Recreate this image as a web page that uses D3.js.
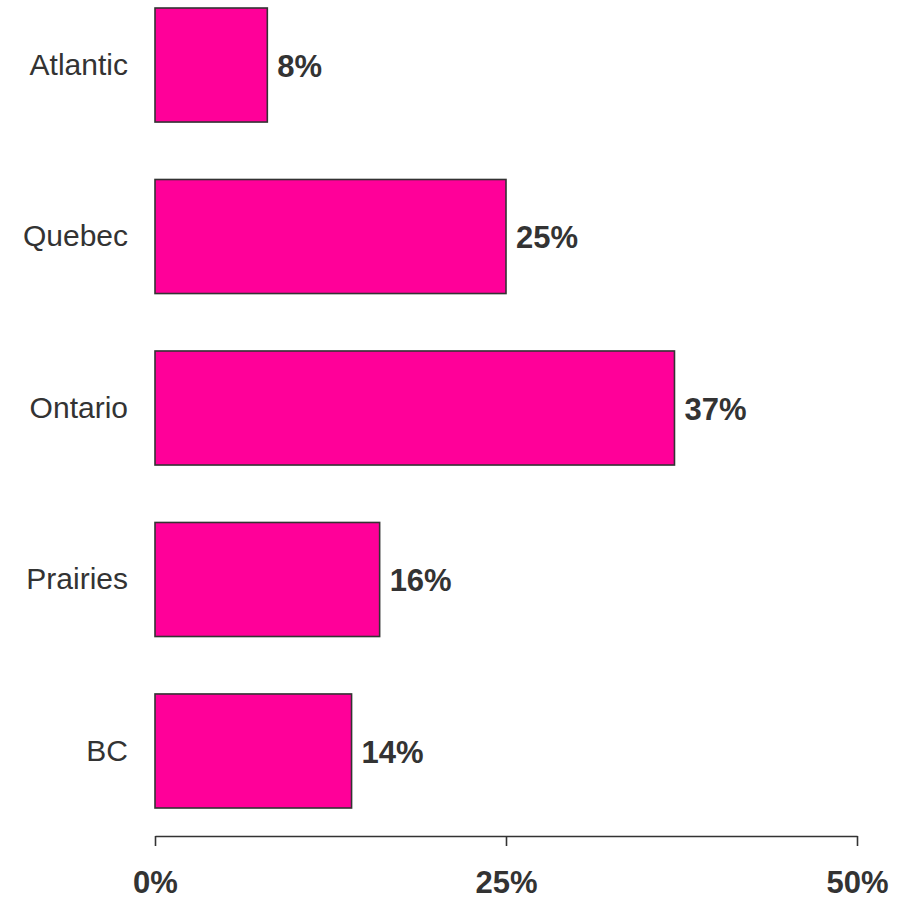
<!DOCTYPE html>
<html>
<head>
<meta charset="utf-8">
<script src="https://cdn.jsdelivr.net/npm/d3@7"></script>
<style>
  html, body { margin: 0; padding: 0; background: #fff; }
  svg { display: block; }
</style>
</head>
<body>
<svg id="chart" width="905" height="900"></svg>
<script>
// Share of total by region (percent)
const regions = ["Atlantic", "Quebec", "Ontario", "Prairies", "BC"];
const shares = [8, 25, 37, 16, 14];
const tickValues = [0, 25, 50];

const svg = d3.select("#chart");
const textColor = "#333333";
const font = "'Liberation Sans', Arial, sans-serif";

const x = d3.scaleLinear().domain([0, 50]).range([155, 857]);
const y = d3.scaleBand().domain(regions).range([8, 808]).paddingInner(0.335).paddingOuter(0);

const data = regions.map((r, i) => ({ region: r, value: shares[i] }));

// Bars
svg.append("g")
  .selectAll("rect")
  .data(data)
  .join("rect")
  .attr("x", x(0))
  .attr("y", d => y(d.region))
  .attr("width", d => x(d.value) - x(0))
  .attr("height", y.bandwidth())
  .attr("fill", "#FF0099")
  .attr("stroke", "#333333")
  .attr("stroke-width", 1.6);

// Value labels
svg.append("g")
  .selectAll("text")
  .data(data)
  .join("text")
  .attr("x", d => x(d.value) + 10)
  .attr("y", d => y(d.region) + y.bandwidth() / 2)
  .attr("dy", "0.38em")
  .attr("font-family", font)
  .attr("font-size", 31)
  .attr("font-weight", "bold")
  .attr("fill", textColor)
  .text(d => d.value + "%");

// Category labels
svg.append("g")
  .selectAll("text")
  .data(regions)
  .join("text")
  .attr("x", 128)
  .attr("y", d => y(d) + y.bandwidth() / 2)
  .attr("dy", "0.32em")
  .attr("text-anchor", "end")
  .attr("font-family", font)
  .attr("font-size", 30)
  .attr("fill", textColor)
  .text(d => d);

// X axis
const axis = svg.append("g")
  .attr("transform", "translate(0,836)")
  .call(d3.axisBottom(x).tickValues(tickValues).tickSize(10).tickSizeOuter(0).tickFormat(d => d + "%"));

axis.select(".domain").attr("stroke", "#333333").attr("stroke-width", 1.6);
axis.selectAll(".tick line").attr("stroke", "#333333").attr("stroke-width", 1.6);
axis.selectAll(".tick text")
  .attr("y", 57)
  .attr("dy", 0)
  .attr("font-family", font)
  .attr("font-size", 31)
  .attr("font-weight", "bold")
  .attr("fill", textColor);
</script>
</body>
</html>
